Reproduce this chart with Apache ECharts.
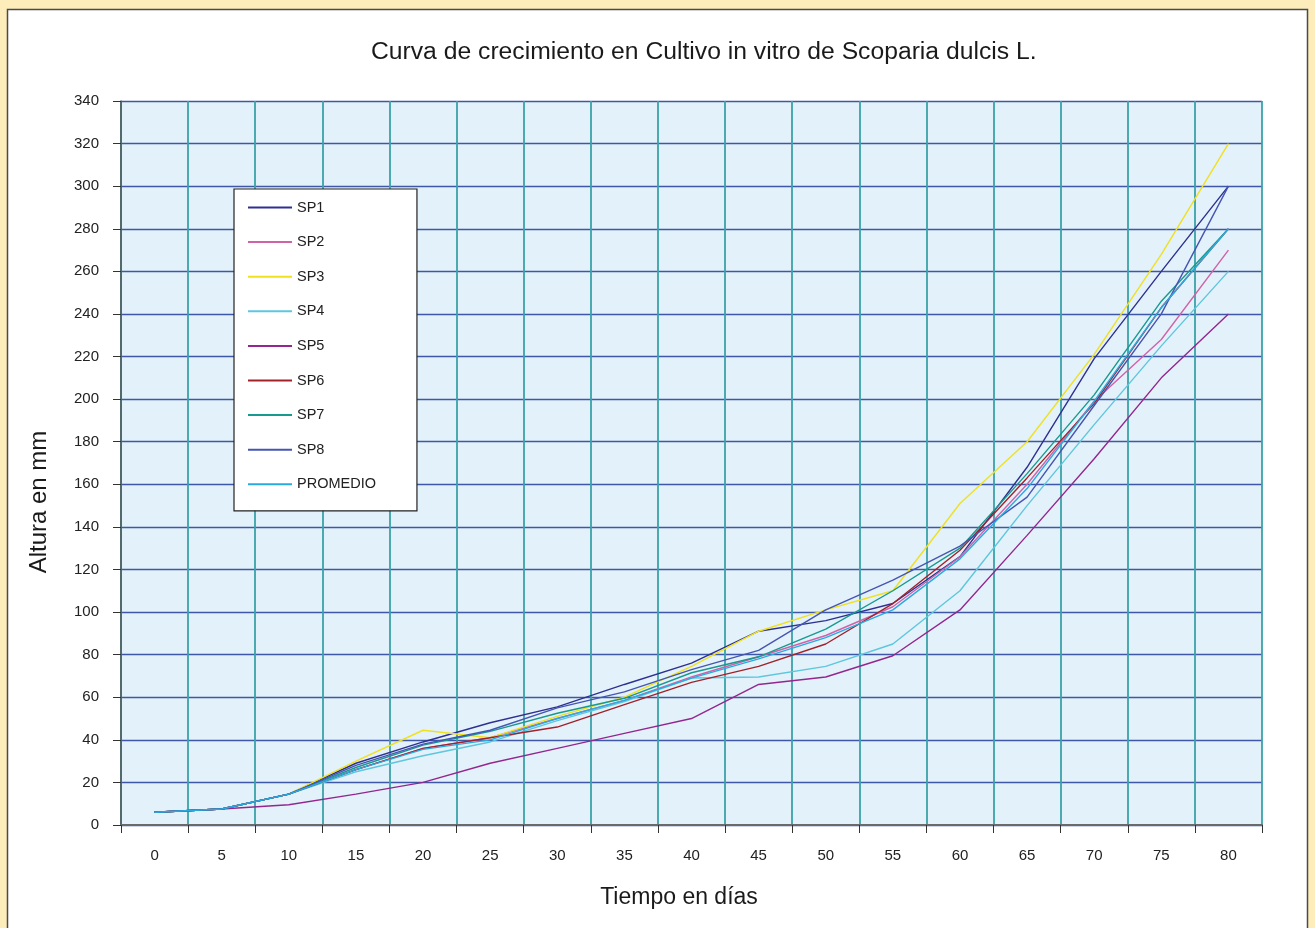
<!DOCTYPE html>
<html>
<head>
<meta charset="utf-8">
<script src="https://cdn.jsdelivr.net/npm/echarts@6/dist/echarts.min.js"></script>
<style>
html,body{margin:0;padding:0;background:#FCEDBB;}
#chart{width:1315px;height:928px;}
</style>
</head>
<body>
<div id="chart"></div>
<script>
const days = ['0','5','10','15','20','25','30','35','40','45','50','55','60','65','70','75','80'];
const yTicks = {min: 0, max: 340, interval: 20};
const sp1 = [6, 7.5, 14.5, 29, 39, 48, 55.5, 66, 76, 91, 96, 104, 126, 168, 219, 260, 300];
const sp2 = [6, 7.5, 14.5, 26, 36, 41, 50, 58.5, 69.5, 79, 89, 102.5, 126, 160, 199, 228, 270];
const sp3 = [6, 7.5, 14.5, 30, 44.5, 41, 51, 60, 74.5, 91, 101, 110, 151, 180, 221, 268, 320];
const sp4 = [6, 7.5, 14.5, 25, 32.5, 39, 49, 58, 69, 69.5, 74.5, 85, 110, 150, 188, 225, 260];
const sp5 = [6, 7.5, 9.5, 14.5, 20, 29, 36, 43, 50, 66, 69.5, 79.5, 101, 136, 172, 210, 240];
const sp6 = [6, 7.5, 14.5, 26, 36, 41, 46, 56.5, 67, 74.5, 85, 104, 129, 163, 198, 243, 280];
const sp7 = [6, 7.5, 14.5, 27, 37.5, 44, 52.5, 59.5, 71.5, 79, 92, 110, 130, 165, 202, 246, 280];
const sp8 = [6, 7.5, 14.5, 28, 38, 44.5, 55, 62.5, 73, 82, 101, 115, 131, 154, 197, 240, 300];
const promedio = [6, 7.5, 14.5, 26, 35.5, 40, 50, 58.5, 69, 78, 88, 101, 125, 158, 199, 243, 280];

const seriesNames = ['SP1','SP2','SP3','SP4','SP5','SP6','SP7','SP8','PROMEDIO'];
const seriesData = [sp1, sp2, sp3, sp4, sp5, sp6, sp7, sp8, promedio];
const seriesColors = ['#2E3192','#D062A8','#F0E11E','#5EC6DD','#93278F','#A3222A','#179A8F','#4556B2','#2BAAE2'];

const FONT = '"Liberation Sans", Arial, Helvetica, sans-serif';
const chart = echarts.init(document.getElementById('chart'));
chart.setOption({
  animation: false,
  backgroundColor: '#FCEDBB',
  textStyle: {fontFamily: FONT},
  title: {
    text: 'Curva de crecimiento en Cultivo in vitro de Scoparia dulcis L.',
    left: 366, top: 35,
    textStyle: {fontSize: 24.7, fontWeight: 'normal', color: '#1a1a1a', fontFamily: FONT}
  },
  graphic: [
    {type: 'rect', z: -100, silent: true,
     shape: {x: 7.5, y: 9.5, width: 1300, height: 940},
     style: {fill: '#ffffff', stroke: '#4a4a4a', lineWidth: 1.5}},
    {type: 'text', x: 679, y: 898, silent: true,
     style: {text: 'Tiempo en días', fontSize: 23, fill: '#1a1a1a', fontFamily: FONT,
             textAlign: 'center', textVerticalAlign: 'middle'}},
    {type: 'text', x: 39, y: 502, rotation: Math.PI / 2, silent: true,
     style: {text: 'Altura en mm', fontSize: 24, fill: '#1a1a1a', fontFamily: FONT,
             textAlign: 'center', textVerticalAlign: 'middle'}}
  ],
  grid: {left: 121, top: 101, right: 53, bottom: 103, show: true,
         backgroundColor: '#E3F1FA', borderWidth: 0},
  legend: {
    orient: 'vertical', left: 234, top: 189,
    data: seriesNames,
    backgroundColor: '#ffffff', borderColor: '#222', borderWidth: 1.2,
    padding: [11, 41, 19, 13],
    itemWidth: 44, itemHeight: 14, itemGap: 19.6,
    itemStyle: {opacity: 0},
    textStyle: {fontSize: 14.5, color: '#222', fontFamily: FONT}
  },
  xAxis: {
    type: 'category', data: days, boundaryGap: true,
    axisLine: {lineStyle: {color: '#6a6a6a', width: 2}},
    axisTick: {show: true, length: 8, lineStyle: {color: '#333', width: 1}},
    axisLabel: {margin: 23, fontSize: 15, color: '#222', fontFamily: FONT},
    splitLine: {show: true, lineStyle: {color: '#3AA2A7', width: 1.8}}
  },
  yAxis: {
    type: 'value', min: yTicks.min, max: yTicks.max, interval: yTicks.interval,
    axisLine: {show: true, lineStyle: {color: '#555', width: 1.5}},
    axisTick: {show: true, length: 8, lineStyle: {color: '#333', width: 1}},
    axisLabel: {margin: 22, fontSize: 15, color: '#222', fontFamily: FONT},
    splitLine: {show: true, lineStyle: {color: '#3F57A8', width: 1.4}}
  },
  series: seriesNames.map((n, i) => ({
    name: n, type: 'line', data: seriesData[i],
    symbol: 'none', smooth: false,
    lineStyle: {color: seriesColors[i], width: 1.4},
    itemStyle: {color: seriesColors[i]}
  }))
});
</script>
</body>
</html>
